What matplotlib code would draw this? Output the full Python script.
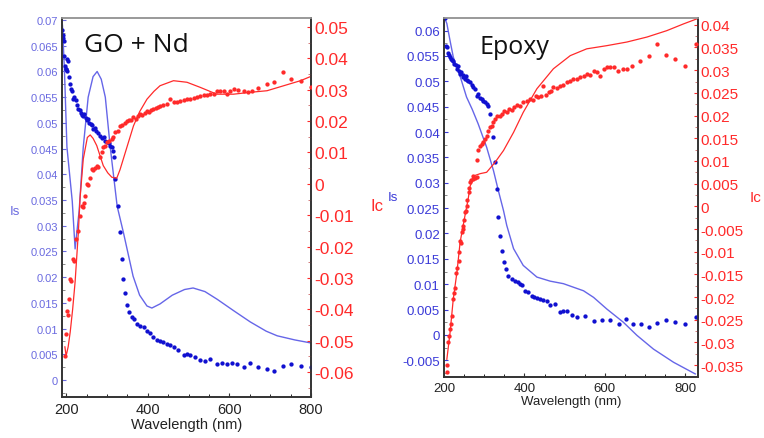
import matplotlib
matplotlib.use("Agg")
import matplotlib.pyplot as plt
from matplotlib.ticker import MultipleLocator, AutoMinorLocator

# ---- GO + Nd panel ----
go_is_line_x = [191, 196, 202, 215, 222, 232, 242, 254, 266, 276, 286, 296, 308, 325, 340, 352,
                364, 380, 398, 410, 430, 460, 490, 511, 540, 570, 610, 651, 690, 717, 760, 800]
go_is_line_y = [0.069, 0.060, 0.0453, 0.0348, 0.0255, 0.033, 0.0453, 0.055, 0.059, 0.060, 0.0585,
                0.055, 0.0453, 0.0338, 0.0288, 0.0245, 0.0202, 0.0165, 0.0144, 0.014, 0.0148, 0.0165,
                0.0176, 0.0179, 0.0172, 0.0157, 0.0135, 0.0113, 0.0095, 0.0086, 0.0078, 0.0072]

go_is_dot_x = [191, 192, 193, 194, 195, 197, 199, 200, 202, 203, 205, 207, 210, 212, 214, 217, 220,
               223, 226, 230, 233, 236, 240, 242, 245, 248, 251, 254, 257, 260, 263, 266, 270, 274,
               278, 283, 287, 292, 296, 300, 304, 308, 313, 316, 318, 320, 328, 331, 336, 339, 345,
               349, 355, 361, 367, 373, 381, 390, 398, 406, 414, 422, 430, 438, 447, 455, 463, 475,
               488, 496, 504, 516, 528, 540, 553, 569, 582, 594, 606, 618, 635, 651, 671, 692, 710,
               730, 751, 776, 800]
go_is_dot_y = [0.068, 0.067, 0.0665, 0.066, 0.063, 0.061, 0.0605, 0.0605, 0.060, 0.0625, 0.062,
               0.059, 0.0575, 0.0566, 0.0562, 0.0546, 0.055, 0.0545, 0.0535, 0.0527, 0.0525, 0.052,
               0.0515, 0.0513, 0.0518, 0.051, 0.0505, 0.0507, 0.050, 0.0498, 0.0495, 0.0488, 0.049,
               0.0485, 0.048, 0.0474, 0.047, 0.0472, 0.0465, 0.0463, 0.046, 0.0455, 0.0453, 0.0445,
               0.0434, 0.039, 0.0338, 0.0287, 0.0235, 0.0196, 0.0169, 0.0145, 0.0132, 0.0122, 0.0118,
               0.0109, 0.0106, 0.0104, 0.0096, 0.0092, 0.0083, 0.0078, 0.0076, 0.0074, 0.007, 0.0068,
               0.0064, 0.0058, 0.0049, 0.005, 0.0049, 0.0044, 0.0038, 0.0037, 0.004, 0.0032, 0.0033,
               0.0032, 0.0033, 0.0031, 0.0025, 0.0034, 0.0025, 0.0021, 0.0017, 0.0028, 0.0031,
               0.0028, 0.0025]

go_ic_line_x = [197, 200, 205, 210, 216, 222, 230, 234, 242, 252, 259, 266, 275, 283, 291, 302,
                312, 324, 332, 340, 352, 365, 380, 398, 415, 430, 463, 496, 528, 569, 610, 651,
                692, 733, 774, 800]
go_ic_line_y = [-0.052, -0.0549, -0.052, -0.0473, -0.040, -0.0313, -0.0154, -0.0048, 0.0079,
                0.0148, 0.0156, 0.0145, 0.0122, 0.009, 0.0058, 0.0035, 0.0021, 0.0018, 0.0045,
                0.0079, 0.013, 0.0185, 0.023, 0.027, 0.0295, 0.0313, 0.0329, 0.0324, 0.0308,
                0.0286, 0.0286, 0.0292, 0.0297, 0.0313, 0.0329, 0.0343]

go_ic_dot_x = [198, 199, 202, 204, 207, 210, 213, 216, 220, 225, 229, 234, 238, 241, 244, 247, 250,
               254, 258, 263, 267, 271, 275, 279, 283, 287, 291, 295, 300, 306, 312, 316, 320, 326,
               332, 338, 344, 349, 355, 360, 365, 370, 375, 381, 386, 392, 398, 404, 409, 414, 420,
               425, 430, 438, 447, 455, 463, 471, 480, 488, 496, 504, 512, 520, 528, 537, 545, 553,
               561, 569, 578, 586, 594, 602, 610, 622, 635, 645, 655, 671, 692, 710, 731, 751, 776,
               800]
go_ic_dot_y = [-0.0548, -0.0479, -0.0405, -0.042, -0.0367, -0.0304, -0.031, -0.024, -0.0245,
               -0.0176, -0.015, -0.0102, -0.007, -0.0075, -0.006, -0.0038, 0.0, -0.0005, 0.002,
               0.0047, 0.0045, 0.005, 0.0058, 0.0055, 0.0085, 0.010, 0.0116, 0.012, 0.0132, 0.0138,
               0.0143, 0.015, 0.0164, 0.017, 0.0185, 0.0188, 0.0195, 0.0201, 0.0203, 0.0205, 0.0212,
               0.0208, 0.0215, 0.0222, 0.0218, 0.0225, 0.0233, 0.0228, 0.0236, 0.0238, 0.0242,
               0.0245, 0.0249, 0.0252, 0.0255, 0.027, 0.026, 0.026, 0.0265, 0.0268, 0.027, 0.0272,
               0.0275, 0.0278, 0.0281, 0.0282, 0.0284, 0.0286, 0.0288, 0.0297, 0.0295, 0.0297,
               0.0286, 0.0295, 0.0302, 0.0299, 0.0297, 0.0294, 0.0297, 0.0305, 0.0318, 0.0326,
               0.0356, 0.0334, 0.0329, 0.0308]

# ---- Epoxy panel ----
ep_is_line_x = [204, 207, 215, 223, 240, 256, 270, 285, 306, 323, 335, 348, 356, 373, 397, 431,
                464, 497, 547, 572, 605, 646, 680, 721, 771, 825]
ep_is_line_y = [0.062, 0.0614, 0.058, 0.0548, 0.051, 0.0469, 0.0445, 0.0416, 0.037, 0.0324, 0.0285,
                0.0245, 0.0216, 0.017, 0.0137, 0.0114, 0.0106, 0.0101, 0.0087, 0.0074, 0.0051,
                0.0025, -0.0001, -0.0028, -0.0054, -0.0077]

ep_is_dot_x = [202, 205, 207, 210, 213, 215, 218, 221, 223, 226, 229, 232, 235, 238, 240, 243, 246,
               248, 251, 254, 256, 260, 264, 269, 273, 277, 281, 285, 290, 294, 298, 302, 306, 310,
               315, 323, 327, 331, 335, 339, 344, 349, 354, 360, 368, 377, 383, 389, 395, 402, 410,
               418, 425, 431, 439, 447, 455, 464, 476, 489, 497, 505, 518, 530, 551, 572, 593, 613,
               636, 653, 670, 690, 709, 729, 752, 775, 800, 827]
ep_is_dot_y = [0.0624, 0.057, 0.0568, 0.0555, 0.0552, 0.0548, 0.0545, 0.0543, 0.0541, 0.0535,
               0.0532, 0.0525, 0.053, 0.052, 0.0515, 0.0518, 0.0512, 0.0509, 0.0505, 0.051, 0.0502,
               0.050, 0.0498, 0.0492, 0.0488, 0.0485, 0.0472, 0.0475, 0.0468, 0.0466, 0.0462, 0.046,
               0.0456, 0.0452, 0.0436, 0.039, 0.0341, 0.0288, 0.0232, 0.0196, 0.0166, 0.0143, 0.013,
               0.0116, 0.011, 0.0107, 0.0105, 0.0101, 0.0098, 0.0087, 0.0084, 0.0076, 0.0074, 0.0072,
               0.0070, 0.0068, 0.0066, 0.0058, 0.0061, 0.0046, 0.0047, 0.0047, 0.0040, 0.0035,
               0.0038, 0.0028, 0.003, 0.003, 0.0022, 0.0032, 0.0022, 0.0022, 0.0016, 0.0024, 0.003,
               0.0025, 0.0022, 0.0035]

ep_ic_line_x = [207, 215, 223, 232, 240, 252, 260, 265, 277, 290, 306, 327, 348, 373, 397, 431,
                472, 514, 555, 605, 655, 705, 754, 796, 829]
ep_ic_line_y = [-0.0337, -0.0278, -0.0204, -0.0146, -0.0079, -0.0021, 0.0016, 0.0045, 0.0068,
                0.0072, 0.0075, 0.0097, 0.0123, 0.0163, 0.0207, 0.0259, 0.0303, 0.0332, 0.0347,
                0.0354, 0.0362, 0.0373, 0.0387, 0.0402, 0.0413]

ep_ic_dot_x = [207, 208, 211, 213, 215, 217, 219, 222, 225, 227, 230, 233, 236, 238, 240, 242, 244,
               246, 248, 250, 252, 254, 256, 258, 261, 263, 265, 268, 271, 273, 277, 281, 283, 285,
               289, 294, 298, 302, 306, 310, 315, 319, 323, 327, 333, 339, 344, 350, 356, 362, 368,
               373, 381, 389, 397, 406, 414, 422, 428, 435, 441, 447, 453, 460, 466, 472, 480, 489,
               497, 505, 514, 522, 530, 539, 547, 555, 564, 572, 580, 589, 597, 605, 613, 622, 634,
               645, 655, 667, 688, 709, 729, 752, 775, 800, 827]
ep_ic_dot_y = [-0.0366, -0.035, -0.030, -0.0285, -0.0271, -0.026, -0.0241, -0.0204, -0.019,
               -0.0179, -0.0146, -0.0135, -0.012, -0.0101, -0.0076, -0.008, -0.0057, -0.005, -0.0043,
               -0.003, -0.0013, -0.001, 0.0001, 0.0015, 0.0031, 0.004, 0.0053, 0.0058, 0.006, 0.0066,
               0.0062, 0.0064, 0.0101, 0.0125, 0.0134, 0.0138, 0.0141, 0.0148, 0.0156, 0.0165,
               0.0174, 0.0178, 0.0185, 0.0192, 0.020, 0.0198, 0.0204, 0.021, 0.0208, 0.0215, 0.0212,
               0.0218, 0.0224, 0.0222, 0.0229, 0.0232, 0.0237, 0.0235, 0.0244, 0.024, 0.0242, 0.0266,
               0.0245, 0.0252, 0.0255, 0.0263, 0.026, 0.0266, 0.0268, 0.0274, 0.0276, 0.0281, 0.028,
               0.0285, 0.0288, 0.0292, 0.029, 0.0299, 0.0296, 0.0288, 0.0302, 0.0307, 0.0306, 0.0307,
               0.0299, 0.0303, 0.0303, 0.031, 0.0321, 0.0331, 0.0358, 0.0334, 0.0325, 0.031, 0.0358]

BLUE_DOT = '#1010d0'
BLUE_LINE = '#6666e8'
BLUE_TXT_L = '#6a6ae0'
BLUE_TXT_R = '#3a3ad8'
RED = '#ff2a2a'

fig = plt.figure(figsize=(7.64, 4.39), dpi=100)
plt.rcParams['font.family'] = ['Liberation Sans', 'DejaVu Sans']


def style_frame(ax):
    for s in ax.spines.values():
        s.set_color('#333333')
        s.set_linewidth(1.2)
    ax.spines['top'].set_color('#999999')


def fmt(v, p):
    # 0.050 -> 0.05, 0 stays 0
    if abs(v) < 1e-9:
        return '0'
    return f'{v:.3f}'.rstrip('0').rstrip('.')


def panel(rect, is_lx, is_ly, is_dx, is_dy, ic_lx, ic_ly, ic_dx, ic_dy,
          xlim, is_lim, ic_lim, is_step, ic_step, is_fs, ic_fs, x_fs, is_col):
    ax = fig.add_axes(rect)
    ax2 = ax.twinx()
    ax.plot(is_lx, is_ly, color=BLUE_LINE, lw=1.0, zorder=2)
    ax.plot(is_dx, is_dy, 'o', color=BLUE_DOT, ms=3.1, mew=0, zorder=3)
    ax2.plot(ic_lx, ic_ly, color=RED, lw=0.9, zorder=2)
    ax2.plot(ic_dx, ic_dy, 'o', color=RED, ms=3.1, mew=0, zorder=3)
    ax.set_xlim(*xlim)
    ax.set_ylim(*is_lim)
    ax2.set_ylim(*ic_lim)
    ax.xaxis.set_major_locator(MultipleLocator(200))
    ax.xaxis.set_minor_locator(AutoMinorLocator(4))
    ax.yaxis.set_major_locator(MultipleLocator(is_step))
    ax2.yaxis.set_major_locator(MultipleLocator(ic_step))
    ax.yaxis.set_minor_locator(AutoMinorLocator(2))
    ax2.yaxis.set_minor_locator(AutoMinorLocator(2))
    ax.yaxis.set_major_formatter(plt.FuncFormatter(fmt))
    ax2.yaxis.set_major_formatter(plt.FuncFormatter(fmt))
    ax.tick_params(axis='y', colors=is_col, labelsize=is_fs, length=3, width=0.8, direction='in', pad=3)
    ax.tick_params(axis='y', which='minor', length=2, direction='in', colors='#777777')
    ax2.tick_params(axis='y', colors=RED, labelsize=ic_fs, length=3, width=0.8, direction='in', pad=2)
    ax2.tick_params(axis='y', which='minor', length=2, direction='in', colors='#cc6666')
    ax.tick_params(axis='x', labelsize=x_fs, length=3, direction='in', colors='#333333', labelcolor='#222222')
    ax.tick_params(axis='x', which='minor', length=2, direction='in')
    ax.set_xlabel('Wavelength (nm)', fontsize=x_fs, color='#222222', labelpad=1)
    style_frame(ax)
    style_frame(ax2)
    return ax, ax2


axL, axL2 = panel([0.0812, 0.0934, 0.326, 0.8633],
                  go_is_line_x, go_is_line_y, go_is_dot_x, go_is_dot_y,
                  go_ic_line_x, go_ic_line_y, go_ic_dot_x, go_ic_dot_y,
                  (190, 800), (-0.0033, 0.0704), (-0.068, 0.0529), 0.005, 0.01,
                  8, 12.5, 10.5, BLUE_TXT_L)
axL.text(0.09, 0.93, 'GO + Nd', transform=axL.transAxes, fontsize=19, family='Open Sans',
         va='center', ha='left', color='#111111')

axR, axR2 = panel([0.5812, 0.139, 0.3325, 0.8178],
                  ep_is_line_x, ep_is_line_y, ep_is_dot_x, ep_is_dot_y,
                  ep_ic_line_x, ep_ic_line_y, ep_ic_dot_x, ep_ic_dot_y,
                  (200, 832), (-0.0083, 0.0625), (-0.0376, 0.0415), 0.005, 0.005,
                  9.5, 11, 9.5, BLUE_TXT_R)
axR.text(0.14, 0.92, 'Epoxy', transform=axR.transAxes, fontsize=18, family='Open Sans',
         va='center', ha='left', color='#111111')

fig.text(10 / 764, 1 - 212 / 439, 'Is', color=BLUE_TXT_L, fontsize=9.5, ha='left', va='center')
fig.text(371 / 764, 1 - 207 / 439, 'Ic', color=RED, fontsize=12, ha='left', va='center')
fig.text(388 / 764, 1 - 198 / 439, 'Is', color=BLUE_TXT_R, fontsize=9.5, ha='left', va='center')
fig.text(750 / 764, 1 - 198 / 439, 'Ic', color=RED, fontsize=11, ha='left', va='center')

fig.savefig('out.png', dpi=100)
